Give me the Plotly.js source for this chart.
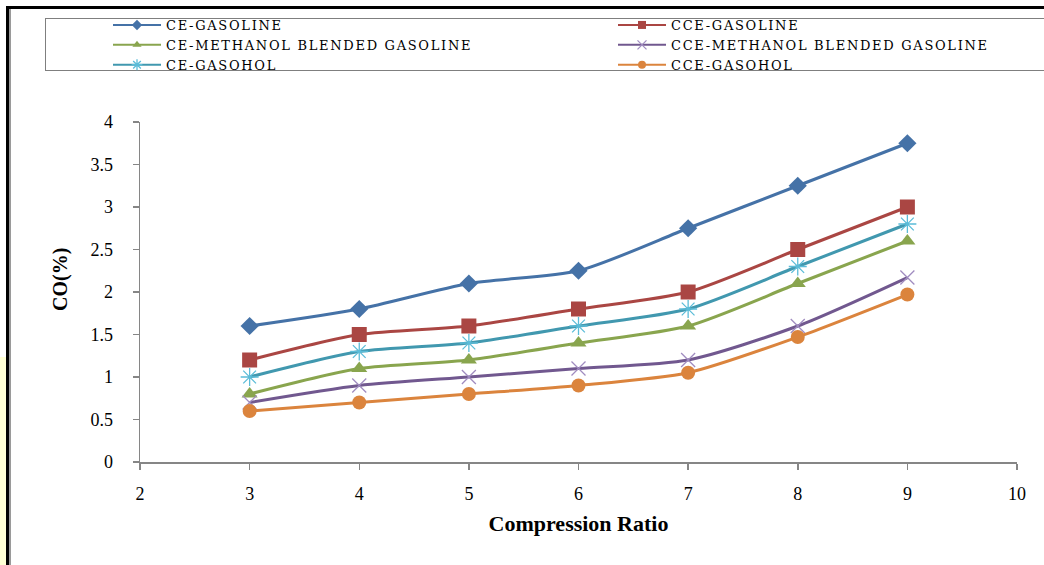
<!DOCTYPE html>
<html>
<head>
<meta charset="utf-8">
<script src="https://cdn.plot.ly/plotly-3.0.1.min.js"></script>
<style>
  html, body { margin: 0; padding: 0; background: #ffffff; }
  #wrap { position: relative; width: 1044px; height: 565px; overflow: hidden; background: #ffffff; }
  .deco { position: absolute; }
  #chart { position: absolute; left: 0; top: 0; width: 1044px; height: 565px; }
  #chart text.legendtext { letter-spacing: 1.7px !important; }
</style>
</head>
<body>
<div id="wrap">
  <div class="deco" style="left:0;top:357px;width:6px;height:208px;background:#ffffd4;"></div>
  <div class="deco" style="left:6px;top:6px;width:1038px;height:3px;background:#000;"></div>
  <div class="deco" style="left:6px;top:6px;width:3px;height:559px;background:#000;"></div>
  <div class="deco" style="left:9px;top:9px;width:2px;height:556px;background:#9a9a9a;"></div>
  <div class="deco" style="left:45px;top:18px;width:1010px;height:51px;border:1px solid #7f7f7f;"></div>
  <div id="chart"></div>
</div>
<script>
const compressionRatio = [3, 4, 5, 6, 7, 8, 9];
const ceGasoline      = [1.6, 1.8, 2.1, 2.25, 2.75, 3.25, 3.75];
const cceGasoline     = [1.2, 1.5, 1.6, 1.8, 2.0, 2.5, 3.0];
const ceMethanol      = [0.8, 1.1, 1.2, 1.4, 1.6, 2.1, 2.6];
const cceMethanol     = [0.7, 0.9, 1.0, 1.1, 1.2, 1.6, 2.17];
const ceGasohol       = [1.0, 1.3, 1.4, 1.6, 1.8, 2.3, 2.8];
const cceGasohol      = [0.6, 0.7, 0.8, 0.9, 1.05, 1.47, 1.97];

const seriesNames = ["CE-GASOLINE", "CCE-GASOLINE", "CE-METHANOL BLENDED GASOLINE",
                     "CCE-METHANOL BLENDED GASOLINE", "CE-GASOHOL", "CCE-GASOHOL"];

const styles = [
  {name: seriesNames[0], y: ceGasoline,  color: '#4572A7', symbol: 'diamond',       size: 14, mcolor: '#4572A7', open: false, legend: 'legend'},
  {name: seriesNames[2], y: ceMethanol,  color: '#89A54E', symbol: 'triangle-up',   size: 14, mcolor: '#89A54E', open: false, legend: 'legend'},
  {name: seriesNames[4], y: ceGasohol,   color: '#4198AF', symbol: 'asterisk-open', size: 15, mcolor: '#5BBCD8', open: true,  legend: 'legend'},
  {name: seriesNames[1], y: cceGasoline, color: '#AA4643', symbol: 'square',        size: 15, mcolor: '#AA4643', open: false, legend: 'legend2'},
  {name: seriesNames[3], y: cceMethanol, color: '#71588F', symbol: 'x-thin-open',   size: 14, mcolor: '#A08CC0', open: true,  legend: 'legend2'},
  {name: seriesNames[5], y: cceGasohol,  color: '#DB843D', symbol: 'circle',        size: 14, mcolor: '#DB843D', open: false, legend: 'legend2'}
];

function marker(s, size) {
  const m = {symbol: s.symbol, size: size, color: s.mcolor};
  if (s.open) m.line = {width: 1.3, color: s.mcolor};
  return m;
}

const traces = [];
styles.forEach(s => {
  traces.push({
    x: compressionRatio, y: s.y, name: s.name, type: 'scatter', mode: 'lines+markers',
    line: {color: s.color, width: 3, shape: 'spline', smoothing: 0.7},
    marker: marker(s, s.size), showlegend: false, hoverinfo: 'skip'
  });
});
// legend entries (no data, smaller symbols like the original key)
styles.forEach(s => {
  traces.push({
    x: [null], y: [null], name: s.name, type: 'scatter', mode: 'lines+markers',
    line: {color: s.color, width: 2},
    marker: marker(s, s.open ? 9 : 8), legend: s.legend, showlegend: true
  });
});

const legendFont = {family: 'DejaVu Serif, Liberation Serif, serif', size: 13, color: '#000'};

const layout = {
  width: 1044, height: 565,
  margin: {l: 140, r: 27, t: 122, b: 103, autoexpand: false},
  paper_bgcolor: 'rgba(0,0,0,0)',
  plot_bgcolor: 'rgba(0,0,0,0)',
  showlegend: true,
  font: {family: 'Liberation Serif, Times New Roman, serif', color: '#000'},
  xaxis: {
    range: [2, 10], dtick: 1, tick0: 2, showgrid: false, zeroline: false,
    showline: true, linecolor: '#868686', linewidth: 1.5,
    ticks: 'outside', ticklen: 6, tickcolor: '#868686', tickwidth: 1.5,
    ticklabelstandoff: 9,
    tickfont: {family: 'Liberation Serif', size: 18, color: '#000'},
    title: {text: '<b>Compression Ratio</b>', font: {family: 'Liberation Serif', size: 22, color: '#000'}, standoff: 12}
  },
  yaxis: {
    range: [0, 4], dtick: 0.5, tick0: 0, showgrid: false, zeroline: false,
    showline: true, linecolor: '#868686', linewidth: 1.5,
    ticks: 'outside', ticklen: 6, tickcolor: '#868686', tickwidth: 1.5,
    ticklabelstandoff: 16,
    tickfont: {family: 'Liberation Serif', size: 18, color: '#000'}
  },
  annotations: [{
    text: '<b>CO(%)</b>', xref: 'paper', yref: 'paper',
    x: (60 - 140) / 877, y: (462 - 280) / 340, xanchor: 'center', yanchor: 'middle',
    textangle: -90, showarrow: false,
    font: {family: 'Liberation Serif', size: 20, color: '#000'}
  }],
  legend: {
    xref: 'container', yref: 'container', x: 108/1044, y: 1 - 10/565,
    xanchor: 'left', yanchor: 'top', orientation: 'v',
    bgcolor: 'rgba(0,0,0,0)', borderwidth: 0, font: legendFont, itemwidth: 48,
    traceorder: 'normal'
  },
  legend2: {
    xref: 'container', yref: 'container', x: 613/1044, y: 1 - 10/565,
    xanchor: 'left', yanchor: 'top', orientation: 'v',
    bgcolor: 'rgba(0,0,0,0)', borderwidth: 0, font: legendFont, itemwidth: 48,
    traceorder: 'normal'
  }
};

function widenKey() {
  const gd = document.getElementById('chart');
  gd.querySelectorAll('text').forEach(t => {
    if (seriesNames.indexOf(t.textContent) >= 0) t.style.letterSpacing = '1.7px';
  });
  gd.querySelectorAll('[clip-path]').forEach(g => {
    const c = g.getAttribute('clip-path') || '';
    if (c.indexOf('legend') >= 0) g.style.clipPath = 'none';
  });
}

Plotly.newPlot('chart', traces, layout, {displayModeBar: false, staticPlot: true}).then(() => {
  widenKey();
  setTimeout(widenKey, 30);
  setTimeout(widenKey, 200);
});
</script>
</body>
</html>
